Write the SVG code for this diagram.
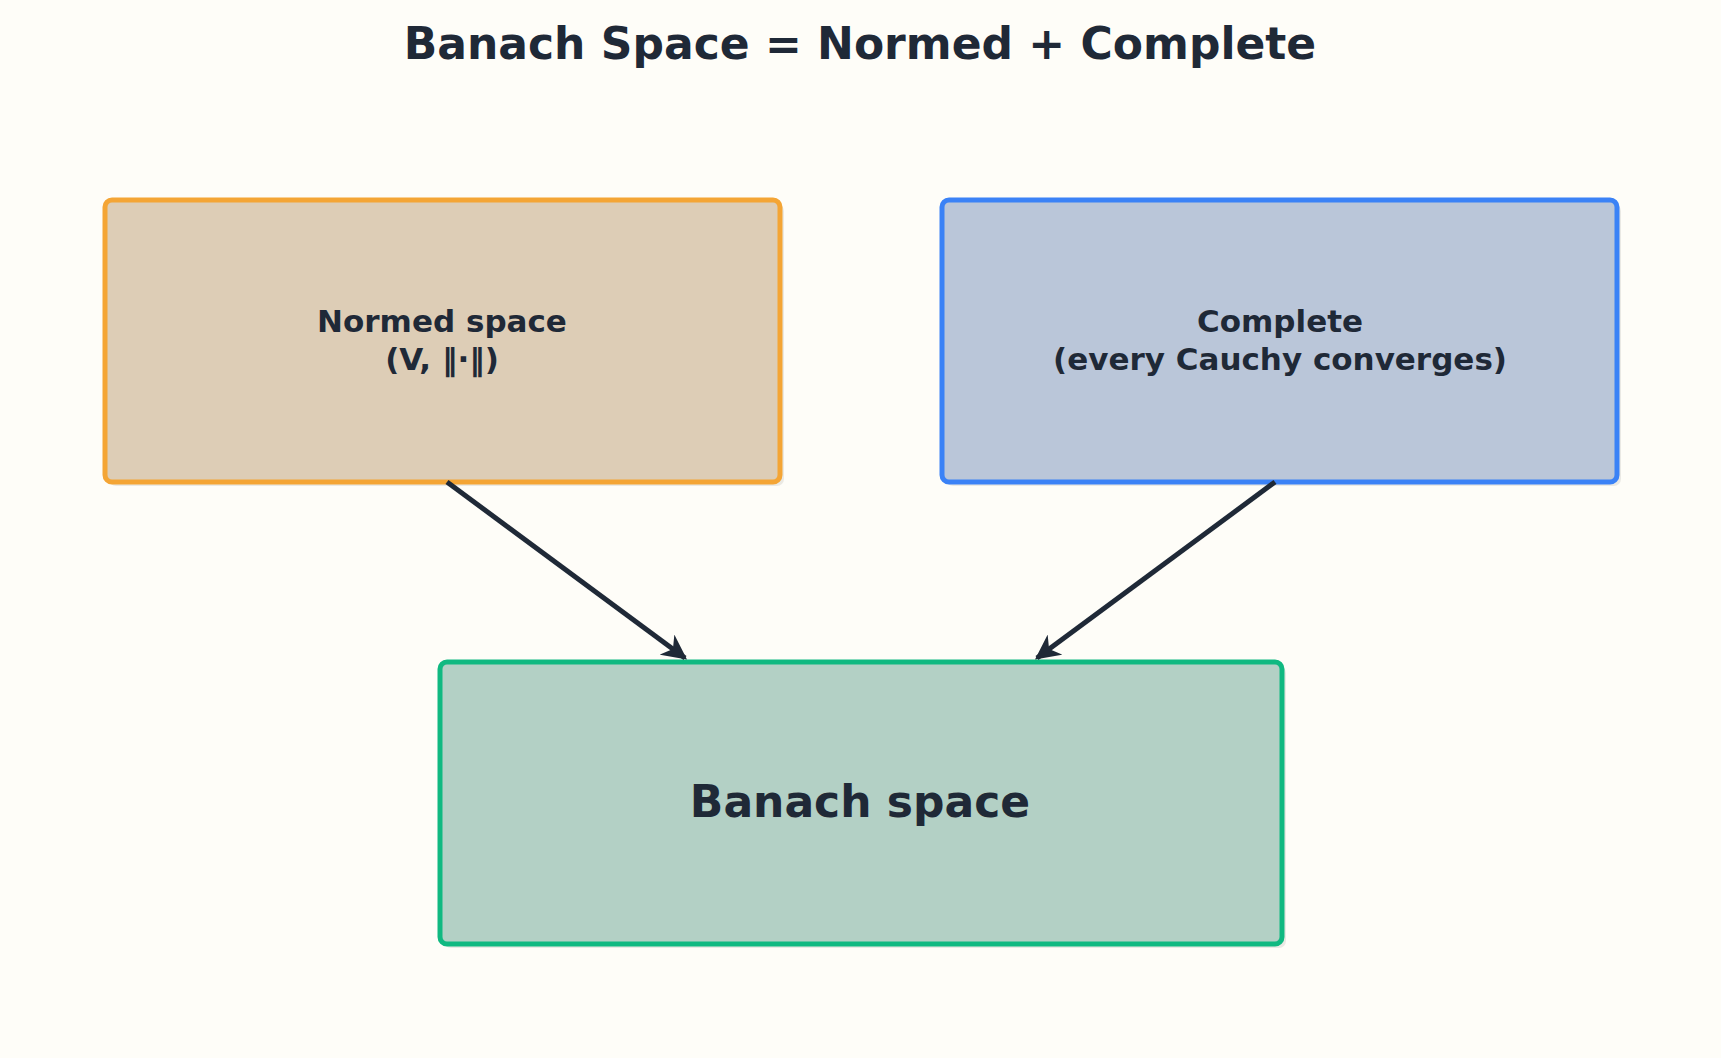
<svg xmlns="http://www.w3.org/2000/svg" width="1721" height="1058" viewBox="0 0 1721 1058">
<style>
text{font-family:"DejaVu Sans",sans-serif;font-weight:bold;fill:#1f2937;text-anchor:middle}
.box{stroke-width:5}
.sh{fill:#000;opacity:0.08}
.c{stroke:#1f2937;stroke-width:5;fill:none;marker-end:url(#a)}
</style>
<defs><marker id="a" viewBox="0 0 10 10" refX="9" refY="5" markerWidth="5" markerHeight="5" orient="auto" markerUnits="strokeWidth"><path d="M0,0 L10,5 L0,10 L3,5 Z" fill="#1f2937"/></marker></defs>
<rect width="1721" height="1058" fill="#fefdf8"/>
<text x="860" y="59" font-size="44">Banach Space = Normed + Complete</text>
<g id="normed"><rect class="sh" x="109" y="204" width="675" height="282" rx="7"/><rect class="box" x="105" y="200" width="675" height="282" rx="7" fill="#ddcdb6" stroke="#f4a535"/><text x="442" y="332" font-size="31">Normed space</text><text x="442" y="370" font-size="31">(V, ‖·‖)</text></g>
<g id="complete"><rect class="sh" x="946" y="204" width="675" height="282" rx="7"/><rect class="box" x="942" y="200" width="675" height="282" rx="7" fill="#bac6d9" stroke="#3b82f6"/><text x="1280" y="332" font-size="31">Complete</text><text x="1280" y="370" font-size="31">(every Cauchy converges)</text></g>
<g id="banach"><rect class="sh" x="444" y="666" width="842" height="282" rx="7"/><rect class="box" x="440" y="662" width="842" height="282" rx="7" fill="#b3d0c5" stroke="#10b981"/><text x="860" y="817" font-size="44">Banach space</text></g>
<g id="connectors"><path class="c" d="M447,482 L685,658"/><path class="c" d="M1275,482 L1037,658"/></g>
</svg>
